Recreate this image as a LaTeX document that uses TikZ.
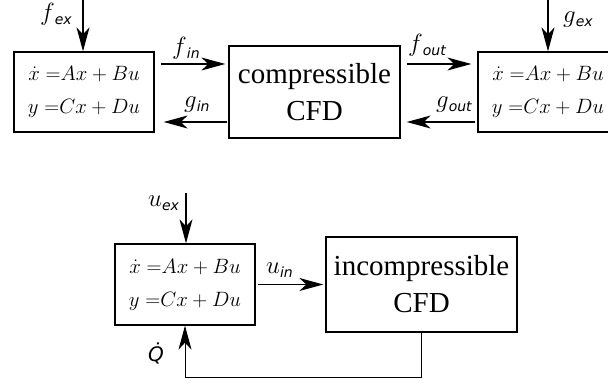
\documentclass[tikz,border=0pt]{standalone}
\usepackage{fontspec}
\setmainfont{Liberation Serif}
\newfontfamily\labfont{DejaVu Sans}
\usetikzlibrary{arrows.meta,calc}
\newcommand\lsub[1]{\raisebox{-4pt}{\labfont\itshape\fontsize{14}{14}\selectfont #1}}
\begin{document}
\begin{tikzpicture}[x=1pt,y=-1pt,
  box/.style={draw,line width=1.3pt,inner sep=0pt,align=center},
  mathbox/.style={box,minimum width=140pt,minimum height=80pt,font=\fontsize{20.74}{33}\selectfont},
  cfdbox/.style={box,font=\fontsize{29}{37}\selectfont},
  tip/.style={-{Stealth[length=24pt,width=13pt,inset=7pt]}},
  arr/.style={line width=1.4pt,tip},
  thinarr/.style={line width=1pt,tip},
  lab/.style={inner sep=0pt,anchor=base west,font=\fontsize{24}{28}\selectfont},
  qlab/.style={inner sep=0pt,anchor=base west,font=\labfont\itshape\fontsize{20}{24}\selectfont}]
\clip (0,0) rectangle (608,385);
% top row
\node[mathbox] (L) at (84,92) {$\dot{x}\;{=}Ax+Bu$\\$y\;{=}Cx+Du$};
\node[cfdbox,minimum width=171pt,minimum height=92pt] (C) at (314.5,92) {compressible\\CFD};
\node[mathbox] (R) at (548,92) {$\dot{x}\;{=}Ax+Bu$\\$y\;{=}Cx+Du$};
% bottom row
\node[mathbox,minimum height=81pt] (B) at (185,284.5) {$\dot{x}\;{=}Ax+Bu$\\$y\;{=}Cx+Du$};
\node[cfdbox,minimum width=191pt,minimum height=95pt] (I) at (421.5,284.5) {incompressible\\CFD};
% coordinates
\coordinate (fex0) at (83,0);
\coordinate (gex0) at (548,0);
\coordinate (uex0) at (186,193);
\coordinate (fb) at (0,377);
% connectors
\draw[arr] (fex0) -- (fex0 |- L.north);
\draw[arr] (gex0) -- (gex0 |- R.north);
\draw[arr] ([xshift=6pt,yshift=28pt]L.east) -- ([xshift=-3pt,yshift=28pt]C.west);
\draw[arr] ([xshift=-1pt,yshift=-30pt]C.west) -- ([xshift=9pt,yshift=-30pt]L.east);
\draw[arr] ([xshift=6pt,yshift=28pt]C.east) -- ([xshift=-6pt,yshift=28pt]R.west);
\draw[arr] ([xshift=-2pt,yshift=-30pt]R.west) -- ([xshift=6pt,yshift=-30pt]C.east);
\draw[arr] (uex0) -- (uex0 |- B.north);
\draw[arr] ([xshift=2pt]B.east) -- ([xshift=-2pt]I.west);
\draw[thinarr] (I.south) -- (I.south |- fb) -| (B.south);
% labels
\node[lab] (lfex) at (40,21) {$f$\lsub{ex}};
\node[lab] (lgex) at (563,23) {$g$\lsub{ex}};
\node[lab] (lfin) at (172,55) {$f$\lsub{in}};
\node[lab] (lgin) at (184,108) {$g$\lsub{in}};
\node[lab] (lfout) at (408,52) {$f$\lsub{out}};
\node[lab] (lgout) at (436,108) {$g$\lsub{out}};
\node[lab] (luex) at (148,207) {$u$\lsub{ex}};
\node[lab] (luin) at (266,273) {$u$\lsub{in}};
\node[qlab] (lq) at (148,361) {Q̇};
\end{tikzpicture}
\end{document}
